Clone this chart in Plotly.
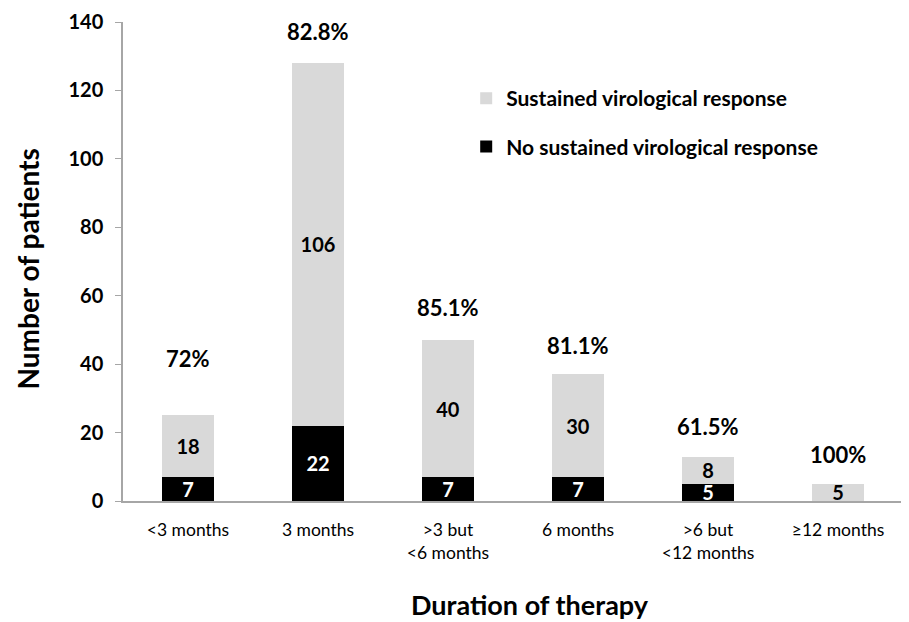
import plotly.graph_objects as go

categories = ["<3 months", "3 months", ">3 but<br><6 months", "6 months", ">6 but<br><12 months", "≥12 months"]
no_svr = [7, 22, 7, 7, 5, 0]
svr = [18, 106, 40, 30, 8, 5]
pct_labels = ["72%", "82.8%", "85.1%", "81.1%", "61.5%", "100%"]
y_ticks = [0, 20, 40, 60, 80, 100, 120, 140]

FONT = "Lato, 'Open Sans', sans-serif"
label_shift = [57, 32, 33, 29, 30, 29]

totals = [a + b for a, b in zip(no_svr, svr)]

fig = go.Figure()
fig.add_trace(go.Bar(
    x=categories, y=no_svr, name="No sustained virological response",
    marker=dict(color="#000000", line=dict(width=0)),
    text=[str(v) if v else "" for v in no_svr], textposition="inside",
    insidetextanchor="middle", constraintext="none", textangle=0,
    textfont=dict(color="white", size=20, family=FONT, weight="bold"),
    width=0.4, legendrank=2, legendgroup="nosvr",
))
fig.add_trace(go.Bar(
    x=categories, y=svr, name="Sustained virological response",
    marker=dict(color="#d9d9d9", line=dict(width=0)),
    text=[str(v) for v in svr], textposition="inside",
    insidetextanchor="middle", constraintext="none", textangle=0,
    textfont=dict(color="black", size=20, family=FONT, weight="bold"),
    width=0.4, legendrank=1, legendgroup="svr",
))

for c, t, p, s in zip(categories, totals, pct_labels, label_shift):
    fig.add_annotation(x=c, y=t, text=p, showarrow=False, yshift=s,
                       font=dict(size=22, family=FONT, color="black", weight="bold"))

fig.add_annotation(xref="paper", yref="paper", x=0.522, y=-0.217, text="Duration of therapy",
                   showarrow=False, xanchor="center", yanchor="middle",
                   font=dict(size=27, family=FONT, color="black", weight="bold"))
fig.add_annotation(xref="paper", yref="paper", x=-0.122, y=0.485, text="Number of patients",
                   showarrow=False, xanchor="center", yanchor="middle", textangle=-90,
                   font=dict(size=28, family=FONT, color="black", weight="bold"))

fig.update_layout(
    width=901, height=614, barmode="stack",
    margin=dict(l=115, r=6, t=14, b=121, autoexpand=False),
    paper_bgcolor="white", plot_bgcolor="white",
    font=dict(family=FONT, color="black"),
    showlegend=True,
    legend=dict(x=0.44, y=0.883, xanchor="left", yanchor="top",
                traceorder="grouped", tracegroupgap=18,
                font=dict(size=21, family=FONT, color="black", weight="bold"),
                bgcolor="rgba(0,0,0,0)"),
    xaxis=dict(showline=True, linecolor="#a6a6a6", linewidth=1.5, ticks="",
               automargin=False, ticklabelstandoff=12,
               tickfont=dict(size=17.5, family=FONT, color="black")),
    yaxis=dict(range=[0, 140], tickvals=y_ticks, showgrid=False, zeroline=False,
               automargin=False, ticklabelstandoff=8,
               showline=True, linecolor="#a6a6a6", linewidth=1.5,
               ticks="outside", ticklen=6, tickcolor="#a6a6a6",
               tickfont=dict(size=20, family=FONT, color="black", weight="bold")),
)

fig.write_html("out.html")
